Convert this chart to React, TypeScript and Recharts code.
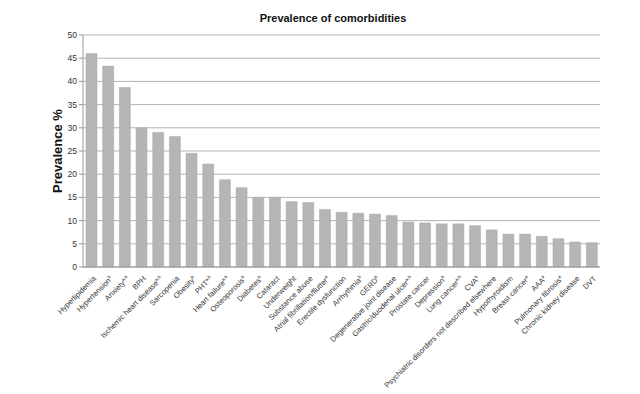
import React from "react";
import { BarChart, Bar, XAxis, YAxis, CartesianGrid } from "recharts";

const categories = [
  "Hyperlipidemia", "Hypertension", "Anxiety", "BPH", "Ischemic heart disease", "Sarcopenia",
  "Obesity", "PHT", "Heart failure", "Osteoporosis", "Diabetes", "Cataract", "Underweight",
  "Substance abuse", "Atrial fibrillation/flutter", "Erectile dysfunction", "Arrhythmia", "GERD",
  "Degenerative joint disease", "Gastric/duodenal ulcer", "Prostate cancer", "Depression",
  "Lung cancer", "CVA", "Psychiatric disorders not described elsewhere", "Hypothyroidism",
  "Breast cancer", "AAA", "Pulmonary fibrosis", "Chronic kidney disease", "DVT",
];
const superscripts = [
  "", "b", "a,b", "", "a,b", "", "b", "a,b", "a,b", "b", "b", "", "", "", "a", "", "b", "b",
  "", "a,b", "", "b", "a,b", "b", "", "", "a", "a", "a", "", "",
];
const prevalence = [
  46.0, 43.3, 38.7, 30.0, 29.0, 28.1, 24.5, 22.2, 18.8, 17.1, 15.0, 15.0, 14.1, 13.9, 12.4,
  11.8, 11.6, 11.4, 11.1, 9.7, 9.5, 9.3, 9.3, 8.9, 8.0, 7.1, 7.1, 6.6, 6.1, 5.4, 5.25,
];
const yTicks = [0, 5, 10, 15, 20, 25, 30, 35, 40, 45, 50];

const data = categories.map((c, i) => ({ name: c, sup: superscripts[i], value: prevalence[i] }));
const supMap: Record<string, string> = {};
categories.forEach((c, i) => (supMap[c] = superscripts[i]));

const font = "'Liberation Sans', Arial, sans-serif";

const XTick = (props: any) => {
  const { x, y, payload } = props;
  const sup = supMap[payload.value];
  return (
    <g transform={`translate(${x + 3},${y + 2})`}>
      <text transform="rotate(-45)" textAnchor="end" x={0} y={0} dy={3} fontSize={7.6} fill="#333" fontFamily={font}>
        {payload.value}
        {sup ? (
          <tspan fontSize={4.5} dy={-3}>{sup}</tspan>
        ) : null}
      </text>
    </g>
  );
};

export default function App() {
  return (
    <div style={{ position: "absolute", left: 0, top: 0, width: 640, height: 394, background: "#fff" }}>
      <svg width={640} height={30} style={{ position: "absolute", left: 0, top: 0 }}>
        <text x={333} y={22} textAnchor="middle" fontSize={11} fontWeight="bold" fill="#111" fontFamily={font}>
          Prevalence of comorbidities
        </text>
      </svg>
      <svg width={80} height={394} style={{ position: "absolute", left: 0, top: 0 }}>
        <text
          transform="translate(62,151) rotate(-90)"
          textAnchor="middle"
          fontSize={13}
          fontWeight="bold"
          fill="#111"
          fontFamily={font}
        >
          Prevalence %
        </text>
      </svg>
      <div style={{ position: "absolute", left: 0, top: 0 }}>
        <BarChart
          width={640}
          height={394}
          data={data}
          margin={{ top: 35, right: 40, left: 43, bottom: 0 }}
          barSize={11}
        >
          <CartesianGrid vertical={false} stroke="#b4b4b4" strokeWidth={1} />
          <XAxis
            dataKey="name"
            interval={0}
            height={127}
            tick={<XTick />}
            tickLine={false}
            axisLine={{ stroke: "#999" }}
          />
          <YAxis
            width={40}
            domain={[0, 50]}
            ticks={yTicks}
            interval={0}
            tick={{ fontSize: 8.5, fill: "#333", fontFamily: font }}
            tickLine={{ stroke: "#999" }}
            tickSize={4}
            axisLine={{ stroke: "#999" }}
          />
          <Bar dataKey="value" fill="#b5b5b5" stroke="#a8a8a8" strokeWidth={0.5} isAnimationActive={false} />
        </BarChart>
      </div>
    </div>
  );
}
